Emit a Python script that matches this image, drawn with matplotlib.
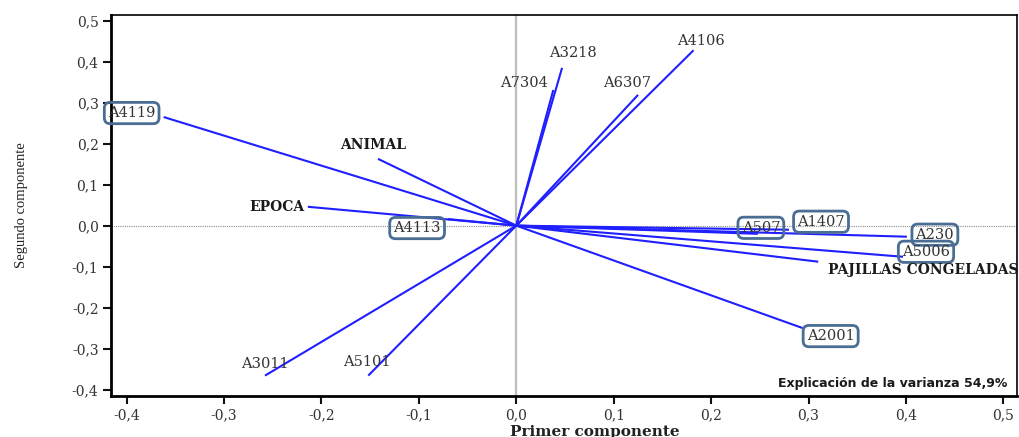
import matplotlib
matplotlib.use("Agg")
import matplotlib.pyplot as plt
from matplotlib.ticker import FuncFormatter

# Loadings on the first two principal components
animals = ["A4119", "A4113", "A3011", "A5101", "A7304", "A3218",
           "A6307", "A4106", "A507", "A1407", "A230", "A5006", "A2001"]
animal_pc1 = [-0.362, -0.070, -0.258, -0.152, 0.038, 0.047,
              0.125, 0.182, 0.248, 0.280, 0.401, 0.397, 0.294]
animal_pc2 = [0.265, 0.016, -0.366, -0.366, 0.331, 0.385,
              0.319, 0.428, -0.020, -0.010, -0.027, -0.076, -0.250]
animal_boxed = [True, True, False, False, False, False,
                False, False, True, True, True, True, True]

factors = ["ANIMAL", "EPOCA", "PAJILLAS CONGELADAS"]
factor_pc1 = [-0.142, -0.214, 0.310]
factor_pc2 = [0.163, 0.046, -0.088]

ticks = [-0.4, -0.3, -0.2, -0.1, 0.0, 0.1, 0.2, 0.3, 0.4, 0.5]
variance_note = "Explicación de la varianza 54,9%"

# label offsets (pixels) from the tip of each vector
animal_offsets = {
    "A4119": (-32, 4), "A4113": (-31, -9), "A3011": (0, 12),
    "A5101": (-1, 14), "A7304": (-29, 7), "A3218": (11, 15),
    "A6307": (-11, 12), "A4106": (7, 9), "A507": (3, 6),
    "A1407": (32, 8), "A230": (28, 2), "A5006": (23, 5),
    "A2001": (28, -8),
}
factor_offsets = {
    "ANIMAL": ((-5, 14), "center"),
    "EPOCA": ((-3, 0), "right"),
    "PAJILLAS CONGELADAS": ((10, -8), "left"),
}

fig = plt.figure(figsize=(10.19, 4.37), dpi=100)
ax = fig.add_axes([0.109, 0.0945, 0.889, 0.8712])
ax.set_xlim(-0.416, 0.514)
ax.set_ylim(-0.415, 0.514)

ax.axvline(0, color="#bdbdbd", lw=1.6, zorder=1)
ax.axhline(0, color="#8a8a8a", lw=0.8, ls=(0, (1, 1)), zorder=1)

line_color = "#1f1fff"
box_color = "#4a6d94"

for name, x, y, boxed in zip(animals, animal_pc1, animal_pc2, animal_boxed):
    ax.plot([0, x], [0, y], color=line_color, lw=1.5, zorder=2,
            solid_capstyle="butt")
    bbox = None
    if boxed:
        bbox = dict(boxstyle="round,pad=0.25,rounding_size=0.4",
                    fc="none", ec=box_color, lw=2)
    ax.annotate(name, (x, y), xytext=animal_offsets[name],
                textcoords="offset pixels", ha="center", va="center",
                fontsize=10.5, family="DejaVu Serif", color="#333333",
                bbox=bbox, annotation_clip=False, clip_on=False, zorder=3)

for name, x, y in zip(factors, factor_pc1, factor_pc2):
    ax.plot([0, x], [0, y], color=line_color, lw=1.5, zorder=2,
            solid_capstyle="butt")
    off, ha = factor_offsets[name]
    ax.annotate(name, (x, y), xytext=off, textcoords="offset pixels",
                ha=ha, va="center", fontsize=10, family="DejaVu Serif",
                fontweight="bold", color="#1a1a1a",
                annotation_clip=False, clip_on=False, zorder=3)

ax.text(0.736, 0.031, variance_note, transform=ax.transAxes,
        ha="left", va="center", fontsize=9, family="DejaVu Sans",
        fontweight="bold", color="#1a1a1a", clip_on=False)

fmt = FuncFormatter(lambda v, _: f"{v:.1f}".replace(".", ","))
ax.set_xticks(ticks)
ax.set_yticks(ticks)
ax.xaxis.set_major_formatter(fmt)
ax.yaxis.set_major_formatter(fmt)
ax.tick_params(axis="both", direction="out", length=6, width=1.5,
               labelsize=10, colors="#111111", pad=3)
for lbl in ax.get_xticklabels() + ax.get_yticklabels():
    lbl.set_family("DejaVu Serif")
    lbl.set_color("#333333")

for side in ["left", "bottom"]:
    ax.spines[side].set_linewidth(2)
for side in ["top", "right"]:
    ax.spines[side].set_linewidth(1.2)

ax.set_xlabel("Primer componente", family="DejaVu Serif",
              fontweight="bold", fontsize=11, color="#222222")
ax.xaxis.set_label_coords(0.534, -0.077)
ax.set_ylabel("Segundo componente", family="Liberation Serif",
              fontsize=10.5, color="#222222")
ax.yaxis.set_label_coords(-0.092, 0.5)

fig.savefig("out.png", dpi=100)
